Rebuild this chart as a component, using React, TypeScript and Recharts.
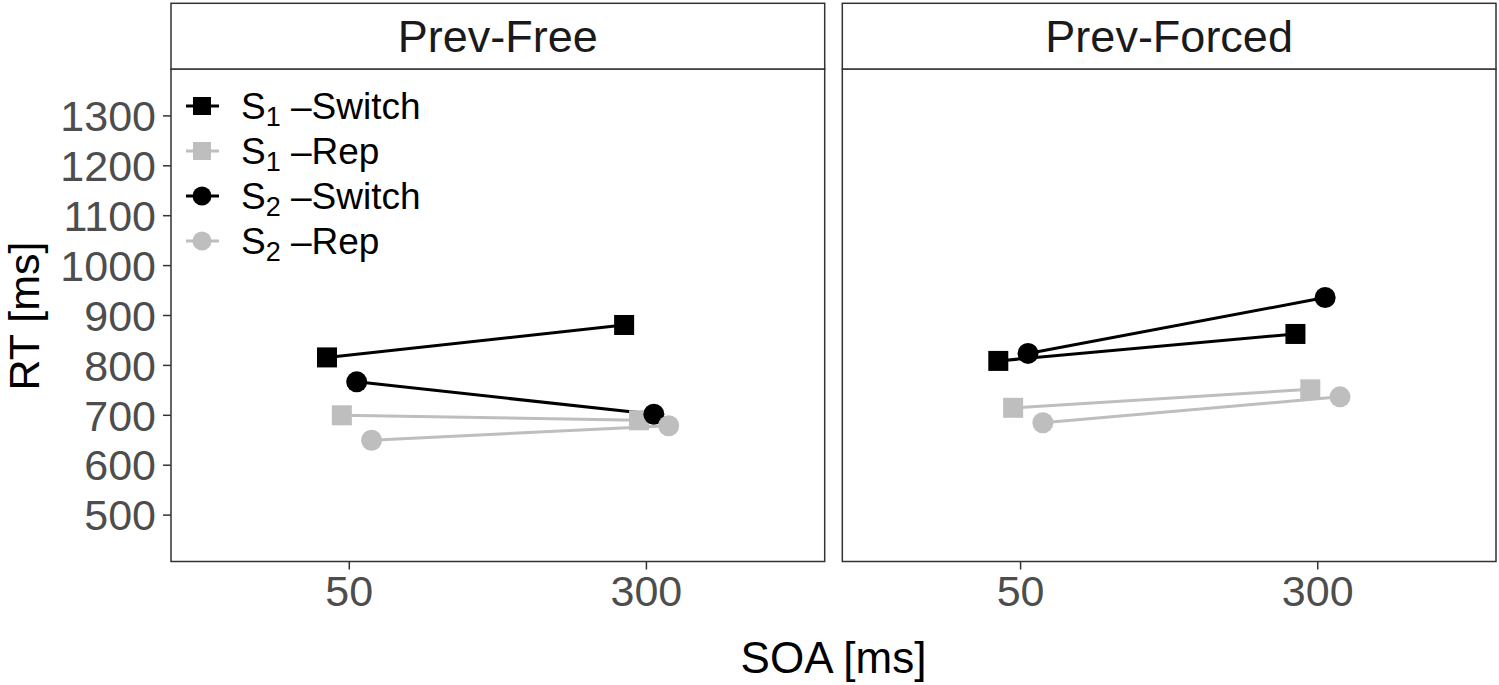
import React from "react";
import { LineChart, Line, XAxis, YAxis, ReferenceArea } from "recharts";

// ---- data ----
const categories = ["50", "300"];
const panelTitles = ["Prev-Free", "Prev-Forced"];
const yTicks = [500, 600, 700, 800, 900, 1000, 1100, 1200, 1300];

const freeS1Switch = [816, 881];
const freeS1Rep = [700, 690];
const freeS2Switch = [767, 702];
const freeS2Rep = [650, 679];

const forcedS1Switch = [809, 863];
const forcedS1Rep = [715, 752];
const forcedS2Switch = [824, 936];
const forcedS2Rep = [685, 737];

// ---- styling ----
const FONT = '"Liberation Sans", Arial, Helvetica, sans-serif';
const BLACK = "#000000";
const GREY = "#BEBEBE";
const BORDER = "#333333";
const Y_DOMAIN: [number, number] = [407, 1394];
const X_DOMAIN: [number, number] = [0.4, 2.6];

type SeriesStyle = { name: string; sub: string; label: string; color: string; shape: "square" | "circle"; dodge: number };
const seriesStyles: SeriesStyle[] = [
  { name: "S1-Switch", sub: "1", label: "Switch", color: BLACK, shape: "square", dodge: -0.075 },
  { name: "S1-Rep", sub: "1", label: "Rep", color: GREY, shape: "square", dodge: -0.025 },
  { name: "S2-Switch", sub: "2", label: "Switch", color: BLACK, shape: "circle", dodge: 0.025 },
  { name: "S2-Rep", sub: "2", label: "Rep", color: GREY, shape: "circle", dodge: 0.075 },
];

const freeValues = [freeS1Switch, freeS1Rep, freeS2Switch, freeS2Rep];
const forcedValues = [forcedS1Switch, forcedS1Rep, forcedS2Switch, forcedS2Rep];

function makeDot(style: SeriesStyle) {
  return (p: any) => {
    const { cx, cy, index } = p;
    if (cx == null || cy == null) return <g key={`e-${index}`} />;
    if (style.shape === "square") {
      return <rect key={`d-${index}`} x={cx - 10} y={cy - 10} width={20} height={20} fill={style.color} />;
    }
    return <circle key={`d-${index}`} cx={cx} cy={cy} r={10.5} fill={style.color} />;
  };
}

type PanelProps = {
  values: number[][];
  width: number;
  height: number;
  marginLeft: number;
  marginRight: number;
  showY: boolean;
};

function Panel({ values, width, height, marginLeft, marginRight, showY }: PanelProps) {
  return (
    <LineChart width={width} height={height} margin={{ top: 69, right: marginRight, bottom: 0, left: marginLeft }}>
      <XAxis
        type="number"
        dataKey="x"
        domain={X_DOMAIN}
        allowDataOverflow
        ticks={[1, 2]}
        interval={0}
        tickFormatter={(v: number) => categories[Math.round(v) - 1]}
        axisLine={false}
        tickLine={{ stroke: BORDER, strokeWidth: 1.5 }}
        tickSize={8}
        tickMargin={6}
        height={58.5}
        tick={{ fill: "#4D4D4D", fontSize: 43, fontFamily: FONT }}
      />
      <YAxis
        type="number"
        domain={Y_DOMAIN}
        allowDataOverflow
        ticks={yTicks}
        interval={0}
        hide={!showY}
        width={171}
        axisLine={false}
        tickLine={{ stroke: BORDER, strokeWidth: 1.5 }}
        tickSize={8}
        tickMargin={7}
        tick={{ fill: "#4D4D4D", fontSize: 43, fontFamily: FONT }}
      />
      {seriesStyles.map((s, si) => (
        <Line
          key={s.name}
          name={s.name}
          data={categories.map((c, i) => ({ x: i + 1 + s.dodge, y: values[si][i], soa: c }))}
          dataKey="y"
          type="linear"
          stroke={s.color}
          strokeWidth={3}
          dot={makeDot(s)}
          activeDot={false}
          isAnimationActive={false}
        />
      ))}
      <ReferenceArea
        x1={X_DOMAIN[0]}
        x2={X_DOMAIN[1]}
        y1={Y_DOMAIN[0]}
        y2={Y_DOMAIN[1]}
        fill="#ffffff"
        fillOpacity={0}
        stroke={BORDER}
        strokeWidth={1.5}
        ifOverflow="visible"
      />
    </LineChart>
  );
}

const panelBoxes = [
  { left: 171, right: 824.7 },
  { left: 842.3, right: 1496 },
];

export default function App() {
  const legendRows = [106, 151, 196, 241];
  return (
    <div style={{ position: "absolute", left: 0, top: 0, width: 1499, height: 685, background: "#fff", fontFamily: FONT }}>
      <div style={{ position: "absolute", left: 0, top: 0 }}>
        <Panel values={freeValues} width={830} height={620} marginLeft={0} marginRight={5.3} showY={true} />
      </div>
      <div style={{ position: "absolute", left: 838, top: 0 }}>
        <Panel values={forcedValues} width={661} height={620} marginLeft={4.3} marginRight={3} showY={false} />
      </div>
      <svg width={1499} height={685} style={{ position: "absolute", left: 0, top: 0, pointerEvents: "none" }}>
        {panelBoxes.map((b, i) => (
          <g key={panelTitles[i]}>
            <rect x={b.left} y={3.3} width={b.right - b.left} height={69 - 3.3} fill="#ffffff" stroke={BORDER} strokeWidth={1.5} />
            <text x={(b.left + b.right) / 2} y={52} textAnchor="middle" fontSize={45} fill="#1A1A1A" fontFamily={FONT}>
              {panelTitles[i]}
            </text>
          </g>
        ))}
        {seriesStyles.map((s, i) => {
          const cy = legendRows[i];
          return (
            <g key={s.name}>
              <line x1={186} x2={219} y1={cy} y2={cy} stroke={s.color} strokeWidth={3} />
              {s.shape === "square" ? (
                <rect x={193} y={cy - 9} width={18} height={18} fill={s.color} />
              ) : (
                <circle cx={202} cy={cy} r={9.5} fill={s.color} />
              )}
              <text x={241} y={cy + 13} fontSize={37} fill="#000" fontFamily={FONT}>
                S
                <tspan fontSize={27} dy={7}>{s.sub}</tspan>
                <tspan fontSize={37} dy={-7}>{"\u00a0\u2013" + s.label}</tspan>
              </text>
            </g>
          );
        })}
        <text
          x={0}
          y={0}
          transform="translate(39,316) rotate(-90)"
          textAnchor="middle"
          fontSize={43}
          fill="#000"
          fontFamily={FONT}
        >
          RT [ms]
        </text>
        <text x={833.5} y={673} textAnchor="middle" fontSize={44} fill="#000" fontFamily={FONT}>
          SOA [ms]
        </text>
      </svg>
    </div>
  );
}
